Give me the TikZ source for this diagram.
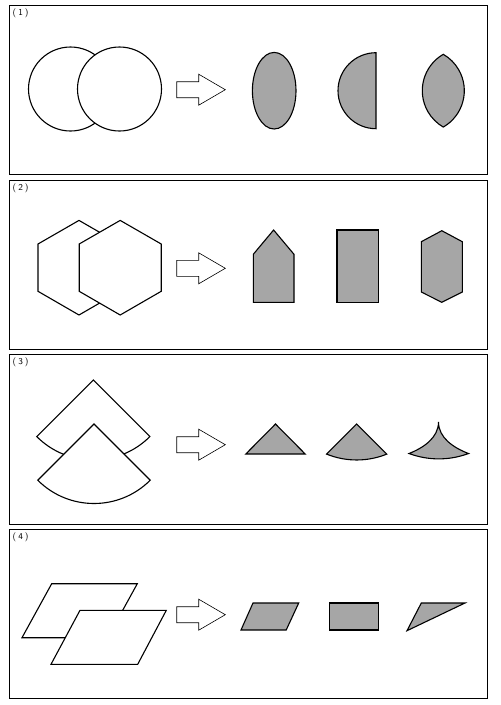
\documentclass[tikz,border=0pt]{standalone}
\usepackage{tikz}
\begin{document}
\begin{tikzpicture}[x=1pt,y=-1pt,line join=miter]
                \tikzset{%
                    panel/.style={draw=black,line width=1pt},
                    piece/.style={draw=black,line width=1.1pt,fill=white},
                    part/.style={draw=black,line width=1.1pt,fill=black!35},
                    hollow arrow/.style={draw=black,line width=0.6pt,fill=white},
                    panel label/.style={anchor=west,inner sep=0pt,
                    font=\sffamily\fontsize{9}{9}\selectfont}%
                        }
            % hollow block arrow, argument: y of its tip
            \newcommand\BlockArrow[1]{
            \draw[hollow arrow] (176.7,#1-8) -- (198.7,#1-8) -- (198.7,#1-15.5)
            -- (225.3,#1) -- (198.7,#1+15.5) -- (198.7,#1+8) -- (176.7,#1+8) -- cycle;
            }
	        {
                \useasboundingbox (0,0) rectangle (501,705);
                \foreach \ya/\yb/\n in {5/174/1,180/349/2,354/524/3,529/698/4}{
                \draw[panel] (9,\ya) rectangle (487,\yb);
                \node[panel label] (lab\n) at (12.5,\ya+8.5) {(\kern2pt\n\kern2pt)};
                }
                % (1) circles
                \draw[piece] (70.5,89) circle[radius=42];
                \draw[piece] (119.5,89) circle[radius=42];
                \BlockArrow{89.7}
                \draw[part] (274.2,90.7) ellipse[x radius=21.8,y radius=38.3];
                \draw[part] (376,52.7) arc[start angle=270,end angle=90,radius=38] -- cycle;
                \draw[part] (443.3,54.3) arc[start angle=240,end angle=120,radius=42]
                arc[start angle=60,end angle=-60,radius=42] -- cycle;
                % (2) hexagons
                \draw[piece] (79,220.4) -- (120,244) -- (120,291.3) -- (79,315)
                -- (38,291.3) -- (38,244) -- cycle;
                \draw[piece] (120.2,220.4) -- (161.2,244) -- (161.2,291.3) -- (120.2,315)
                -- (79.2,291.3) -- (79.2,244) -- cycle;
                \BlockArrow{268.3}
                \draw[part] (273.6,230) -- (294,254.3) -- (294,302.3) -- (253.3,302.3)
                -- (253.3,254.3) -- cycle;
                \draw[part] (337,230) rectangle (378.3,302.3);
                \draw[part] (441.8,230.7) -- (462.3,241.7) -- (462.3,292) -- (441.8,302.3)
                -- (421.3,292) -- (421.3,241.7) -- cycle;
                % (3) sectors
                \draw[piece] (93.3,380) -- ++(135:80) arc[start angle=135,end angle=45,radius=80] -- cycle;
                \draw[piece] (94,424) -- ++(135:79.5) arc[start angle=135,end angle=45,radius=79.5] -- cycle;
                \BlockArrow{444.7}
                \draw[part] (275.5,424) -- (305.2,454) -- (245.8,454) -- cycle;
                \draw[part] (356.7,424) -- (326.6,454.1)
                arc[start angle=112.1,end angle=67.9,radius=80] -- cycle;
                \draw[part] (438.5,422) .. controls (438.5,438) and (423,448) .. (409,453.5)
                arc[start angle=110.5,end angle=69.5,radius=85]
                .. controls (454,448) and (438.5,438) .. (438.5,422) -- cycle;
                % (4) parallelograms
                \draw[piece] (51.7,583.7) -- (137.3,583.7) -- (107.6,637.7) -- (22,637.7) -- cycle;
                \draw[piece] (80,610.3) -- (166.3,610.3) -- (137.7,664.3) -- (51,664.3) -- cycle;
                \BlockArrow{614.7}
                \draw[part] (253,603) -- (298.7,603) -- (286.2,630) -- (241,630) -- cycle;
                \draw[part] (329.7,603) rectangle (378.7,630);
                \draw[part] (421.3,603) -- (465,603) -- (407,630.7) -- cycle;
            }
\end{tikzpicture}
\end{document}
